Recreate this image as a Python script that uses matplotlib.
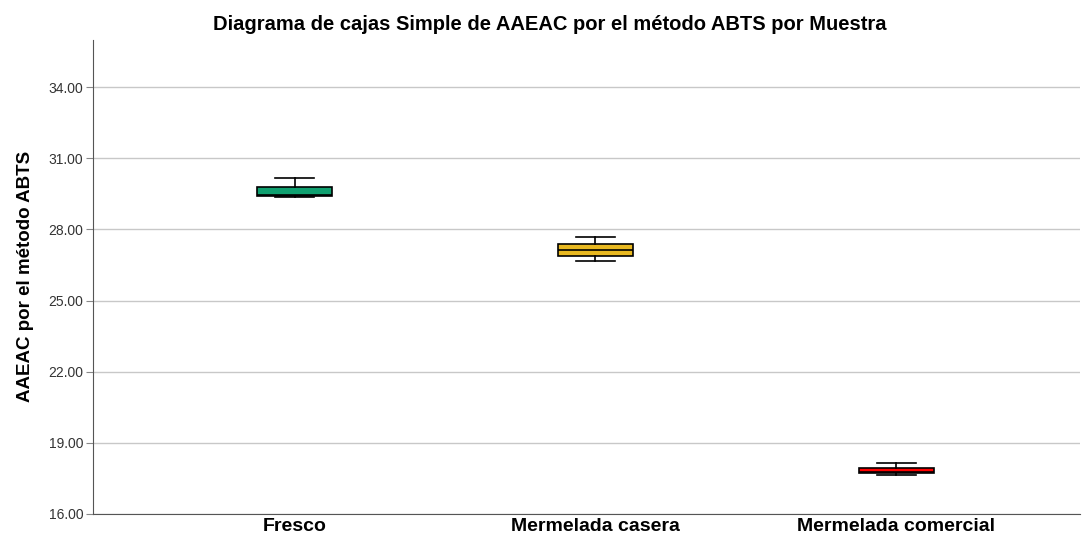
import matplotlib
matplotlib.use("Agg")
import matplotlib.pyplot as plt

plt.rcParams['font.family'] = ['Liberation Sans', 'DejaVu Sans']

# box statistics
muestras = ['Fresco', 'Mermelada casera', 'Mermelada comercial']
whislo = [29.36, 26.68, 17.64]
q1 = [29.42, 26.88, 17.71]
med = [29.45, 27.13, 17.78]
q3 = [29.80, 27.37, 17.92]
whishi = [30.18, 27.66, 18.13]
colores = ['#10a070', '#e8b820', '#ff0000']
yticks = [16, 19, 22, 25, 28, 31, 34]

stats = []
for i, m in enumerate(muestras):
    stats.append({'label': m, 'whislo': whislo[i], 'q1': q1[i], 'med': med[i],
                  'q3': q3[i], 'whishi': whishi[i], 'fliers': []})

fig = plt.figure(figsize=(10.83, 5.39), dpi=100)
ax = fig.add_axes([0.0859, 0.0464, 0.911, 0.88])

bp = ax.bxp(stats, positions=range(len(muestras)), widths=0.25, patch_artist=True,
            showfliers=False,
            boxprops=dict(edgecolor='black', linewidth=1.2),
            medianprops=dict(color='black', linewidth=1.2),
            whiskerprops=dict(color='black', linewidth=1.2),
            capprops=dict(color='black', linewidth=1.2),
            capwidths=0.13)
for patch, c in zip(bp['boxes'], colores):
    patch.set_facecolor(c)

ax.set_xlim(-0.67, 2.61)
ax.set_ylim(16, 36)
ax.set_yticks(yticks)
ax.set_yticklabels([f'{v:.2f}' for v in yticks], fontsize=10, color='#333333')
ax.yaxis.grid(True, color='#c8c8c8', linewidth=1)
ax.set_axisbelow(True)
ax.set_xticks(range(len(muestras)))
ax.set_xticklabels(muestras, fontsize=14, fontweight='bold')
ax.tick_params(axis='x', length=0, pad=3)
ax.tick_params(axis='y', length=5, color='#888888', pad=2)
for s in ['top', 'right']:
    ax.spines[s].set_visible(False)
for s in ['left', 'bottom']:
    ax.spines[s].set_color('#555555')

ax.set_ylabel('AAEAC por el método ABTS', fontsize=13.5, fontweight='bold', labelpad=10)
fig.suptitle('Diagrama de cajas Simple de AAEAC por el método ABTS por Muestra',
             x=0.508, y=0.954, va='center', fontsize=14.5, fontweight='bold')

fig.savefig('out.png', dpi=100)
